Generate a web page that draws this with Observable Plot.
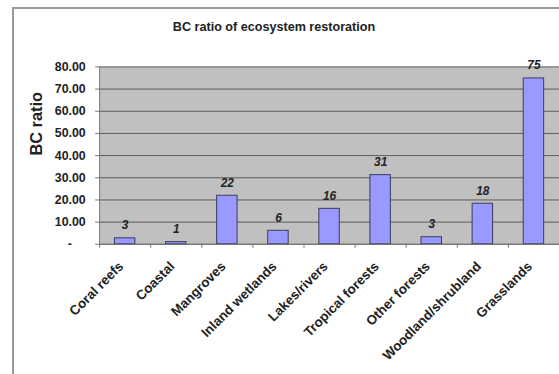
<!DOCTYPE html>
<html>
<head>
<meta charset="utf-8">
<script src="https://cdn.jsdelivr.net/npm/d3@7"></script>
<script src="https://cdn.jsdelivr.net/npm/@observablehq/plot@0.6"></script>
<style>
  html, body { margin: 0; padding: 0; background: #fff; overflow: hidden; }
  #wrap { position: relative; width: 559px; height: 374px; overflow: hidden; font-family: "Liberation Sans", Arial, sans-serif; }
  #border { position: absolute; left: 12px; top: 7px; width: 700px; height: 500px; border-left: 2px solid #9a9a9a; border-top: 2px solid #9a9a9a; }
  #title { position: absolute; left: 0; top: 19px; width: 548px; height: 16px; line-height: 16px; text-align: center; font-weight: bold; font-size: 12.6px; color: #222; }
  #chart { position: absolute; left: 0; top: 0; }
</style>
</head>
<body>
<div id="wrap">
  <div id="border"></div>
  <div id="title">BC ratio of ecosystem restoration</div>
  <div id="chart"></div>
</div>
<script>
const categories = ["Coral reefs", "Coastal", "Mangroves", "Inland wetlands", "Lakes/rivers", "Tropical forests", "Other forests", "Woodland/shrubland", "Grasslands"];
const values = [2.7, 1.0, 21.9, 6.1, 16.0, 31.2, 3.2, 18.3, 74.8];
const valueLabels = ["3", "1", "22", "6", "16", "31", "3", "18", "75"];
const yTicks = [0, 10, 20, 30, 40, 50, 60, 70, 80];

const data = categories.map((c, i) => ({i, category: c, value: values[i], label: valueLabels[i]}));
const indices = categories.map((c, i) => i);
const boundaries = d3.range(-0.5, categories.length, 1);

const chart = Plot.plot({
  width: 564,
  height: 374,
  marginLeft: 100,
  marginRight: 0,
  marginTop: 67,
  marginBottom: 128,
  x: {domain: [-0.5, categories.length - 0.5], axis: null},
  y: {domain: [0, 80], axis: null},
  style: {fontFamily: "'Liberation Sans', Arial, sans-serif", background: "transparent", overflow: "visible", color: "#222"},
  marks: [
    Plot.frame({fill: "#c0c0c0", stroke: null}),
    Plot.gridY(yTicks, {stroke: "#5a5a5a", strokeOpacity: 1}),
    Plot.axisY(yTicks, {
      tickFormat: d => d === 0 ? "-\u00a0\u00a0\u00a0\u00a0" : d.toFixed(2),
      tickSize: 4, tickPadding: 10, fontSize: 12.5, fontWeight: "bold", label: null, stroke: "#777"
    }),
    Plot.axisX(boundaries, {tickFormat: () => "", tickSize: 4, label: null, stroke: "#777"}),
    Plot.axisX(indices, {
      tickFormat: i => categories[i], tickRotate: -45, tickSize: 0, tickPadding: 20, dx: -4,
      fontSize: 13.5, fontWeight: "bold", label: null
    }),
    Plot.rectY(data, {x1: d => d.i - 0.2, x2: d => d.i + 0.2, y: "value", fill: "#9999ff", stroke: "#3a3a5a", strokeWidth: 1}),
    Plot.text(data, {x: "i", y: "value", text: "label", dy: -13, fontStyle: "italic", fontWeight: "bold", fontSize: 12, fill: "#222"}),
    Plot.ruleX([-0.5], {stroke: "#777"}),
    Plot.ruleY([0], {stroke: "#777"}),
    Plot.text(["BC ratio"], {text: d => d, frameAnchor: "left", dx: -63, rotate: -90, fontSize: 16.5, fontWeight: "bold", fill: "#222"})
  ]
});
document.getElementById("chart").appendChild(chart);
</script>
</body>
</html>
